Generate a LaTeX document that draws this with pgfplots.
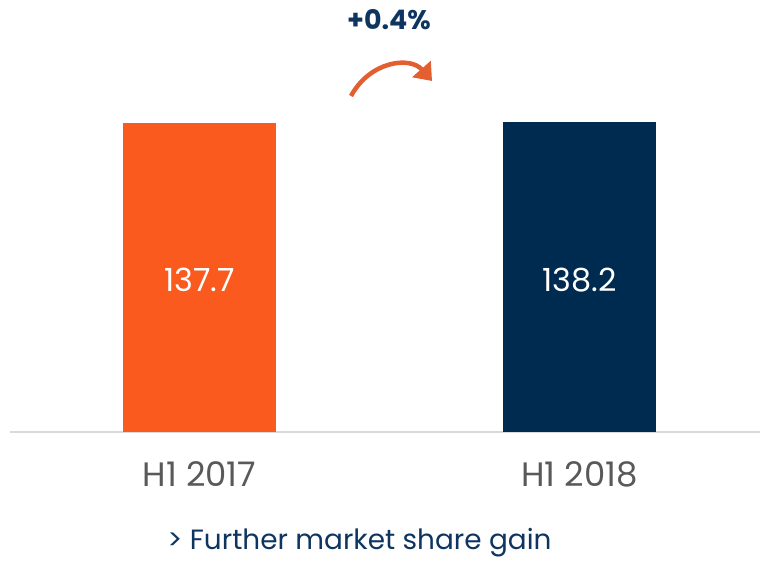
\documentclass[border=0pt]{standalone}
\usepackage{fontspec}
\setmainfont{Poppins}
\usepackage{pgfplots}
\pgfplotsset{compat=1.18}
\usetikzlibrary{arrows.meta}
\definecolor{barorange}{HTML}{FA5A1E}
\definecolor{barnavy}{HTML}{002B50}
\definecolor{txtnavy}{HTML}{0E3560}
\definecolor{arroworange}{HTML}{E35F30}
\definecolor{axisgrey}{HTML}{D9D9D9}
\definecolor{ticktext}{HTML}{595959}
\begin{document}
\begin{tikzpicture}[x=1bp,y=1bp]
\useasboundingbox (0,0) rectangle (760,561);
\begin{axis}[
  scale only axis,
  at={(10bp,129bp)}, anchor=south west,
  width=750bp, height=336.6bp,
  xmin=-0.4987, xmax=1.475,
  ymin=0, ymax=150,
  clip=false,
  axis x line=bottom,
  axis y line=none,
  x axis line style={-, draw=axisgrey, line width=2bp},
  xtick={0,1},
  xticklabels={H1 2017, H1 2018},
  major tick length=0pt,
  xticklabel style={anchor=base, yshift=-55bp, font=\fontsize{34}{38}\selectfont, text=ticktext},
  ytick=\empty,
]
\addplot[ybar, bar width=0.4026, fill=barorange, draw=none] coordinates {(0,137.7)};
\addplot[ybar, bar width=0.4026, fill=barnavy, draw=none] coordinates {(1,138.2)};
\node[anchor=base, text=white, font=\fontsize{32}{36}\selectfont] at (axis cs:0,62.4) {137.7};
\node[anchor=base, text=white, font=\fontsize{32}{36}\selectfont] at (axis cs:1,62.4) {138.2};
\end{axis}
\node[anchor=base, text=txtnavy, font=\fontsize{27}{30}\bfseries] at (389,531) {+0.4\%};
\draw[arroworange, line width=4.5bp, -{Triangle[width=24bp,length=16bp]}] (351,465) .. controls (370,500) and (410,505) .. (432,480);
\node[anchor=base, text=txtnavy, font=\fontsize{28}{32}\selectfont] at (359.5,11) {> Further market share gain};
\end{tikzpicture}
\end{document}
